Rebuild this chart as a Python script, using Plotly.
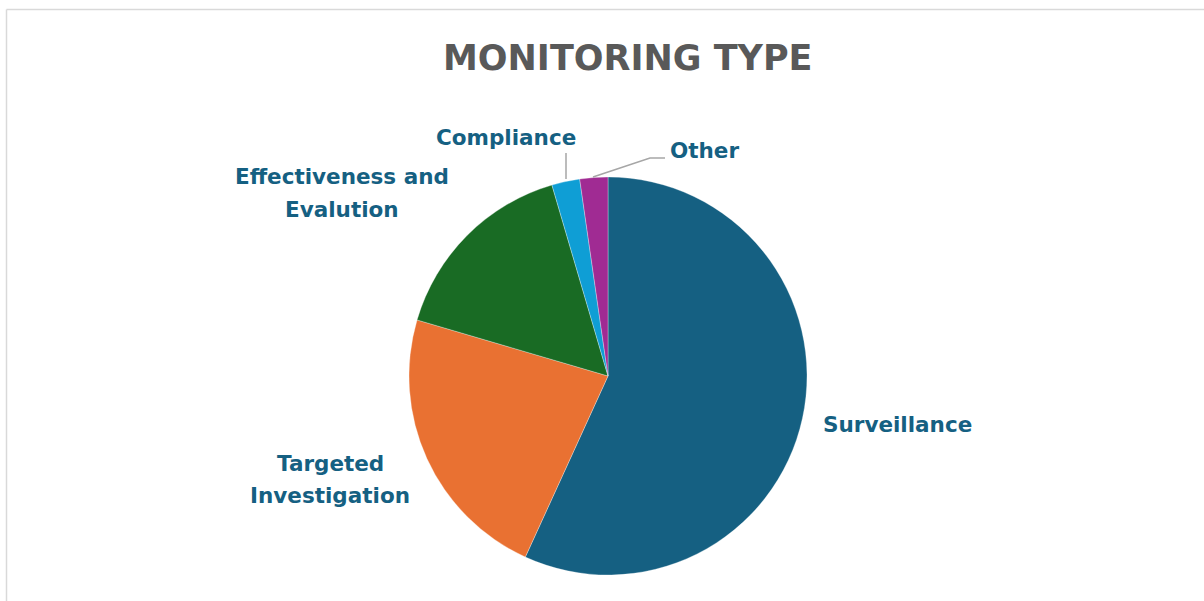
import plotly.graph_objects as go

# Data
categories = ["Surveillance", "Targeted Investigation", "Effectiveness and Evalution", "Compliance", "Other"]
values = [25, 10, 7, 1, 1]
colors = ["#156082", "#E97132", "#196B24", "#0F9ED5", "#A02B93"]
label_lines = [["Surveillance"], ["Targeted", "Investigation"], ["Effectiveness and", "Evalution"],
               ["Compliance"], ["Other"]]

W, H = 1204, 601
def px(x):
    return x / W
def py(y):
    return 1 - y / H

# pie placement (pixels)
cx, cy, r = 608, 376, 199

fig = go.Figure(go.Pie(
    labels=categories,
    values=values,
    marker=dict(colors=colors, line=dict(color="rgba(255,255,255,0.6)", width=0.5)),
    sort=False,
    direction="clockwise",
    rotation=0,
    textinfo="none",
    hoverinfo="label+percent",
    showlegend=False,
    domain=dict(x=[px(cx - r), px(cx + r)], y=[py(cy + r), py(cy - r)]),
))

# label block centers (first line y), line spacing
label_pos = [(898, 424), (330, 463), (342, 177), (506, 137), (704, 150)]
LINE_GAP = 32
font_lab = dict(family="DejaVu Sans, sans-serif", size=21.5, color="#156082")
annotations = []
for lines, (x, y) in zip(label_lines, label_pos):
    for i, ln in enumerate(lines):
        annotations.append(dict(text="<b>" + ln + "</b>", x=px(x), y=py(y + i * LINE_GAP),
                                xref="paper", yref="paper", showarrow=False,
                                xanchor="center", yanchor="middle", font=font_lab))
annotations.append(dict(text="<b>MONITORING TYPE</b>", x=px(627), y=py(58), xref="paper", yref="paper",
                        showarrow=False, xanchor="center", yanchor="middle",
                        font=dict(family="DejaVu Sans, sans-serif", size=35, color="#595959")))

shapes = [
    dict(type="line", xref="paper", yref="paper", x0=px(6.5), x1=px(1215), y0=py(9.5), y1=py(9.5),
         line=dict(color="#D9D9D9", width=1.5)),
    dict(type="line", xref="paper", yref="paper", x0=px(6.5), x1=px(6.5), y0=py(9.5), y1=py(615),
         line=dict(color="#D9D9D9", width=1.5)),
    # leader lines
    dict(type="line", xref="paper", yref="paper", x0=px(566), x1=px(566), y0=py(153), y1=py(179),
         line=dict(color="#A6A6A6", width=1.5)),
    dict(type="path", xref="paper", yref="paper",
         path=f"M {px(593)} {py(177)} L {px(650)} {py(158)} L {px(665)} {py(158)}",
         line=dict(color="#A6A6A6", width=1.5)),
]

fig.update_layout(
    width=W, height=H,
    margin=dict(l=0, r=0, t=0, b=0),
    paper_bgcolor="white",
    plot_bgcolor="white",
    annotations=annotations,
    shapes=shapes,
)

fig.write_html("out.html", config={"displayModeBar": False},
               post_script="document.body.style.margin='0';")
